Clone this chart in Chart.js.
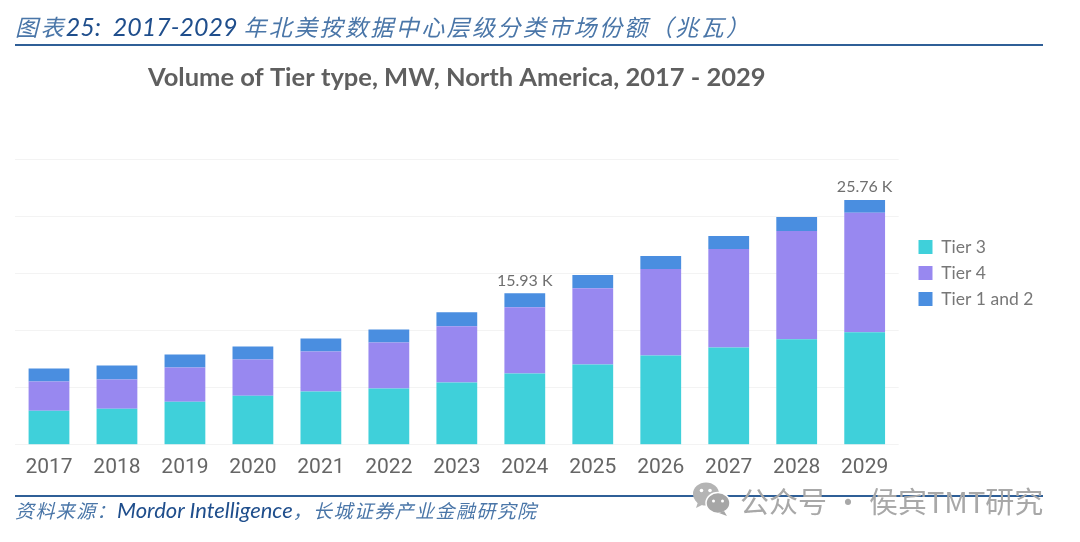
<!DOCTYPE html>
<html><head><meta charset="utf-8">
<script src="https://cdn.jsdelivr.net/npm/chart.js@4/dist/chart.umd.min.js"></script>
<style>
html,body{margin:0;padding:0;background:#fff;width:1080px;height:542px;overflow:hidden}
#wrap{position:relative;width:1080px;height:542px}
canvas{position:absolute;left:0;top:0}
.t{position:absolute;white-space:nowrap;font-style:italic}
.rule{position:absolute;left:15px;width:1028px;height:2px;background:#2f5f97}
</style></head><body>
<div id="wrap">
<canvas id="c" width="1080" height="542"></canvas>
<div class="t" style="left:15px;top:9px;font:italic 23px 'Noto Sans CJK SC';color:#4a76a8;letter-spacing:2.4px">图表<span style="font:italic 25px Lato;color:#1f4e8c;letter-spacing:0">25:&nbsp; 2017-2029 </span>年北美按数据中心层级分类市场份额（兆瓦）</div>
<div class="rule" style="top:44px"></div>
<div class="rule" style="top:495px"></div>
<div class="t" style="left:15px;top:496px;font:italic 19px 'Noto Sans CJK SC';color:#4a76a8;letter-spacing:1.4px">资料来源：<span style="font:italic 22px Lato;color:#1f4e8c;letter-spacing:0">Mordor Intelligence</span>，长城证券产业金融研究院</div>
<svg style="position:absolute;left:692px;top:481px" width="40" height="36" viewBox="0 0 40 36">
<ellipse cx="14" cy="13" rx="13" ry="11.5" fill="#b4b4b4"/><path d="M6 21l-2 6 8-4z" fill="#b4b4b4"/>
<ellipse cx="26" cy="22" rx="12" ry="10.5" fill="#a6a6a6" stroke="#fff" stroke-width="1.5"/><path d="M32 30l3 5-8-3z" fill="#a6a6a6"/>
<circle cx="9.5" cy="9.5" r="1.8" fill="#fff"/><circle cx="18" cy="9.5" r="1.8" fill="#fff"/><circle cx="21.5" cy="20" r="1.5" fill="#fff"/><circle cx="30.5" cy="20" r="1.5" fill="#fff"/></svg>
<div style="position:absolute;left:740px;top:479px;font:29px 'Noto Sans CJK SC';color:#a8a8a8;white-space:nowrap">公众号 · 侯宾TMT研究</div>
</div>
<script>
const years=['2017','2018','2019','2020','2021','2022','2023','2024','2025','2026','2027','2028','2029'];
const tier3=[3.59,3.80,4.54,5.17,5.60,5.91,6.55,7.50,8.45,9.40,10.24,11.09,11.83];
const tier4=[3.06,3.06,3.59,3.80,4.22,4.86,5.91,6.97,8.03,9.08,10.35,11.40,12.57];
const tier12=[1.37,1.48,1.37,1.37,1.37,1.37,1.48,1.46,1.37,1.37,1.37,1.48,1.36];
const totalLabels=[null,null,null,null,null,null,null,'15.93 K',null,null,null,null,'25.76 K'];
const yTicks=[0,6,12,18,24,30];
const COLORS={t3:'#3fd0da',t4:'#9888f0',t12:'#4a8ee0'};
const placeLegend={id:'placeLegend',afterLayout(ch){const l=ch.legend;l.left=910;l.right=1060;l.top=223;l.bottom=323;}};
const totals={id:'totals',afterDatasetsDraw(ch){
  const {ctx,scales:{x,y}}=ch;ctx.save();ctx.font='16px Lato';ctx.fillStyle='#6f6f6f';ctx.textAlign='center';ctx.textBaseline='bottom';
  totalLabels.forEach((t,i)=>{if(t){const sum=tier3[i]+tier4[i]+tier12[i];ctx.fillText(t,x.getPixelForValue(i),y.getPixelForValue(sum)-5);}});
  ctx.restore();}};
const ds=(label,data,color)=>({label,data,backgroundColor:color,borderWidth:0,barPercentage:.6,categoryPercentage:1,stack:'a'});
new Chart(document.getElementById('c'),{type:'bar',
 data:{labels:years,datasets:[ds('Tier 3',tier3,COLORS.t3),ds('Tier 4',tier4,COLORS.t4),ds('Tier 1 and 2',tier12,COLORS.t12)]},
 plugins:[placeLegend,totals],
 options:{responsive:false,animation:false,
  layout:{padding:{left:15,top:62,right:48,bottom:60}},
  plugins:{tooltip:{enabled:false},
   title:{display:true,text:'Volume of Tier type, MW, North America, 2017 - 2029',fullSize:false,color:'#5f5f5f',font:{family:'Lato',size:25.5,weight:'bold'},padding:{top:0,bottom:67}},
   legend:{position:'right',labels:{boxWidth:14,boxHeight:14,padding:8.5,color:'#777',font:{family:'Lato',size:17.5}}}},
  scales:{
   x:{stacked:true,grid:{display:false},border:{display:false},ticks:{color:'#666',font:{family:'Roboto',size:21},padding:2,maxRotation:0,autoSkip:false}},
   y:{stacked:true,min:0,max:30,afterBuildTicks(a){a.ticks=yTicks.map(v=>({value:v}));},grid:{color:'#f3f3f3',drawTicks:false},border:{display:false},ticks:{display:false}}
  }}});
</script>
</body></html>
